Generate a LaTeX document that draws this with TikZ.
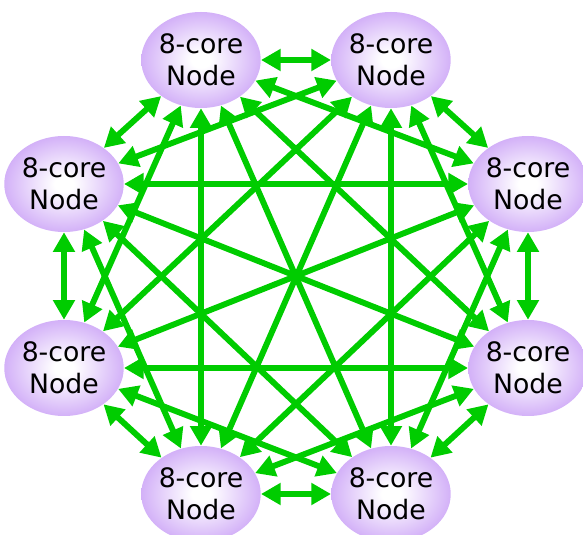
\documentclass[tikz,border=0pt]{standalone}
\usepackage{fontspec}
\setmainfont{DejaVu Sans}
\usetikzlibrary{arrows.meta,shapes.geometric}
\definecolor{linkgreen}{RGB}{0,204,0}
\definecolor{corepurple}{RGB}{188,136,244}
\pgfdeclareradialshading{coreshade}{\pgfpoint{0bp}{0bp}}{color(0bp)=(white); color(4bp)=(white); color(36bp)=(corepurple); color(50bp)=(corepurple)}
\tikzset{
	corenode/.style={ellipse, shading=coreshade, minimum width=2.85cm, minimum height=2.4cm, inner sep=0pt, align=center, font=\fontsize{19}{23}\selectfont},
	link/.style={line width=4.2pt, color=linkgreen, {Triangle[length=14pt,width=15pt]}-{Triangle[length=14pt,width=15pt]}}
}

\begin{document}
\begin{tikzpicture}
		%%%%% START %%%%%
		
		\useasboundingbox (0, 0) rectangle (14.575, -13.375);
		
		\node[corenode] (n1) at (5.025, -1.5) {8-core\\Node};
		\node[corenode] (n2) at (9.775, -1.5) {8-core\\Node};
		\node[corenode] (n3) at (13.2, -4.6) {8-core\\Node};
		\node[corenode] (n4) at (13.2, -9.2) {8-core\\Node};
		\node[corenode] (n5) at (9.775, -12.35) {8-core\\Node};
		\node[corenode] (n6) at (5.025, -12.35) {8-core\\Node};
		\node[corenode] (n7) at (1.6, -9.2) {8-core\\Node};
		\node[corenode] (n8) at (1.6, -4.6) {8-core\\Node};
		
		% outer ring
		\draw[link] (n1) -- (n2);
		\draw[link] (n2) -- (n3);
		\draw[link] (n3) -- (n4);
		\draw[link] (n4) -- (n5);
		\draw[link] (n5) -- (n6);
		\draw[link] (n6) -- (n7);
		\draw[link] (n7) -- (n8);
		\draw[link] (n8) -- (n1);
		
		% skip one
		\draw[link] (n1) -- (n3);
		\draw[link] (n2) -- (n4);
		\draw[link] (n3) -- (n5);
		\draw[link] (n4) -- (n6);
		\draw[link] (n5) -- (n7);
		\draw[link] (n6) -- (n8);
		\draw[link] (n7) -- (n1);
		\draw[link] (n8) -- (n2);
		
		% skip two
		\draw[link] (n1) -- (n4);
		\draw[link] (n2) -- (n5);
		\draw[link] (n3) -- (n6);
		\draw[link] (n4) -- (n7);
		\draw[link] (n5) -- (n8);
		\draw[link] (n6) -- (n1);
		\draw[link] (n7) -- (n2);
		\draw[link] (n8) -- (n3);
		
		% across
		\draw[link] (n1) -- (n5);
		\draw[link] (n2) -- (n6);
		\draw[link] (n3) -- (n7);
		\draw[link] (n4) -- (n8);
		
		%%%%% END %%%%%
	\end{tikzpicture}
\end{document}
